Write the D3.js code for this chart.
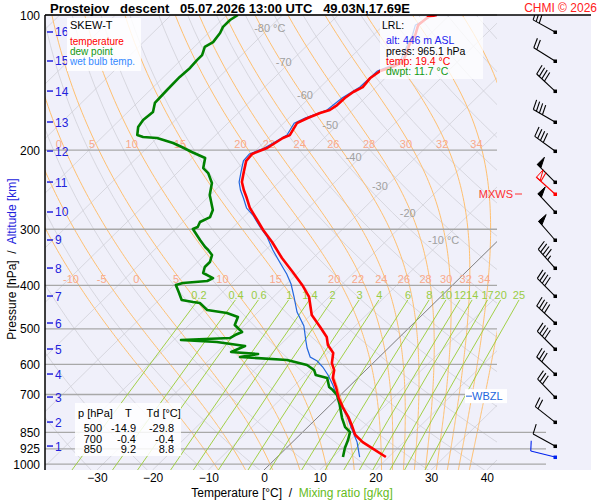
<!DOCTYPE html>
<html>
<head>
<meta charset="utf-8">
<script src="https://cdn.jsdelivr.net/npm/d3@7/dist/d3.min.js"></script>
<style>
  body { margin: 0; background: #fff; }
  svg { display: block; font-family: Arial, "Liberation Sans", sans-serif; }
</style>
</head>
<body>
<svg id="chart" width="600" height="500"></svg>
<script>
// ---- sounding: pressure [hPa] / temperature [°C]
const tempP = [100, 101.0, 105.3, 110.8, 115.4, 120.9, 127.3, 130.6, 133.3, 138.1, 144.7, 148.4, 153.1, 158.7, 162.8, 165.3, 169.6, 174.1, 185.1, 187.9, 197.8, 203.9, 211.3, 223.7, 235.5, 245.3, 255.6, 269.1, 286.1, 301.2, 320.3, 347.7, 373.6, 401.4, 424.5, 465.8, 495.3, 521.2, 543.4, 565.8, 595.8, 617.6, 643.1, 676.2, 711.0, 746.5, 784.9, 825.3, 860.5, 893.4, 922.6, 964.5];
const tempT = [-52.3, -53.5, -53.8, -52.5, -52.0, -50.9, -49.8, -50.8, -52.2, -52.7, -52.4, -53.2, -53.6, -53.7, -54.1, -55.3, -56.6, -57.6, -56.7, -57.4, -58.4, -60.0, -59.8, -58.2, -56.7, -54.9, -52.9, -50.5, -47.0, -44.1, -40.3, -35.6, -31.1, -26.7, -23.6, -19.8, -16.1, -13.1, -11.4, -9.0, -7.4, -5.7, -4.5, -2.1, 0.1, 2.6, 5.4, 7.9, 9.9, 12.6, 15.5, 19.5];

const dewP = [100, 102.6, 106.3, 109.7, 114.9, 117.8, 122.8, 126.0, 131.2, 137.4, 146.9, 157.0, 164.4, 171.3, 177.6, 185.0, 186.9, 187.9, 192.8, 196.8, 201.9, 208.2, 219.2, 224.9, 236.7, 251.7, 271.8, 281.8, 289.1, 296.6, 299.6, 317.0, 328.6, 333.7, 342.4, 354.9, 364.1, 375.5, 385.3, 391.2, 395.3, 399.3, 414.0, 431.3, 435.7, 437.9, 453.9, 461.0, 470.5, 490.2, 508.2, 516.0, 524.0, 529.5, 534.9, 546.0, 563.0, 568.9, 577.6, 586.6, 601.9, 617.5, 633.5, 643.3, 673.7, 684.2, 701.9, 738.9, 789.9, 827.2, 848.7, 884.2, 921.2, 964.7];
const dewT = [-88.0, -88.5, -88.5, -87.9, -87.5, -88.1, -87.1, -87.1, -86.9, -87.1, -87.0, -86.8, -85.5, -85.8, -85.4, -84.1, -82.7, -80.0, -76.2, -73.9, -71.2, -67.7, -66.2, -64.4, -61.9, -60.1, -56.8, -56.0, -56.9, -56.4, -56.9, -53.6, -51.4, -50.3, -48.7, -47.8, -47.8, -47.0, -44.3, -44.8, -48.8, -49.7, -47.9, -45.9, -43.5, -42.1, -39.5, -35.4, -32.7, -31.8, -29.2, -29.9, -30.3, -38.7, -31.9, -26.1, -27.5, -22.3, -25.0, -16.0, -11.5, -9.3, -8.1, -5.5, -3.5, -2.3, -0.6, 1.7, 4.5, 6.7, 8.5, 9.6, 10.5, 11.8];

const wbP = [100, 105.3, 110.8, 120.9, 127.3, 133.3, 144.7, 153.1, 162.8, 169.6, 174.1, 185.1, 197.8, 203.9, 211.3, 223.7, 235.5, 245.3, 255.6, 269.1, 278.9, 296.6, 312.2, 333.7, 356.7, 377.5, 397.3, 424.5, 458.6, 492.8, 529.5, 551.6, 577.6, 589.7, 608.1, 633.5, 666.8, 720.2, 784.9, 831.4, 893.4, 964.7];
const wbT = [-52.8, -54.3, -53.0, -51.4, -50.3, -52.7, -52.9, -54.1, -54.6, -57.1, -58.1, -57.2, -58.9, -60.5, -60.3, -58.7, -57.2, -55.5, -53.5, -51.1, -48.7, -45.2, -42.1, -38.7, -35.0, -31.8, -29.2, -26.3, -23.0, -19.2, -16.3, -14.6, -12.4, -10.4, -8.3, -5.9, -3.2, 0.5, 5.2, 8.0, 11.6, 14.8];

// altitude scale and winds at each km
const altKm = [1, 2, 3, 4, 5, 6, 7, 8, 9, 10, 11, 12, 13, 14, 15, 16];
const altP = [911.8, 806.3, 709.2, 630.3, 554.4, 485.2, 422.5, 366.0, 317.0, 274.6, 235.5, 200.9, 173.1, 147.7, 126.6, 109.1];
const windDir = [299, 308, 316, 313, 315, 313, 315, 318, 319, 317, 315, 306, 300, 313, 302, 299];
const windSpd = [10, 20, 30, 30, 40, 40, 40, 45, 50, 50, 50, 40, 40, 40, 20, 30];
const surfaceWind = { p: 964.7, dir: 284, spd: 10 };
const maxWind = { p: 250.4, dir: 312, spd: 60 };

// axes and diagram lines
const pressureTicks = [100, 200, 300, 400, 500, 600, 700, 850, 925, 1000];
const tempTicks = [-30, -20, -10, 0, 10, 20, 30, 40];
const isotherms = d3.range(-130, 50, 10);
const dryAdiabats = d3.range(220, 490, 10);
const thetaW = [-10, -5, 0, 5, 10, 15, 20, 22, 24, 26, 28, 30, 32, 34, 36];
const thetaWLabelLevels = [400, 200];
const mixingRatios = [0.2, 0.4, 0.6, 1, 1.4, 2, 3, 4, 6, 8, 10, 12, 14, 17, 20, 25];
const isoLabelT = [-80, -70, -60, -50, -40, -30, -20, -10];
const isoLabelP = [107, 127, 151, 176, 207, 240, 276, 317];

// table of standard levels
const tableP = [500, 700, 850];
const tableT = [-14.9, -0.4, 9.2];
const tableTd = [-29.8, -0.4, 8.8];
const wbzlP = 706;

const PLOT = { left: 45, top: 15, right: 497, bottom: 470, outer: 591 };
const SKEW = 1.02;
const RED = '#ff0000', GREEN = '#008000', BLUE = '#2266dd';

const svg = d3.select('#chart');
const yScale = d3.scaleLog().domain([100, 1031]).range([PLOT.top, PLOT.bottom]);
const xScale = d3.scaleLinear().domain([-40, 40]).range([41.2, 486.8]);
const skewX = (t, p) => xScale(t) + (PLOT.bottom - yScale(p)) * SKEW;
const profileLine = d3.line().x((d) => skewX(d[1], d[0])).y((d) => yScale(d[0]));

// thermodynamics for the background lines
const satVap = (tc) => 6.112 * Math.exp((17.67 * tc) / (tc + 243.5));
function moistLapse(T, p) {
    const Rd = 287.04, cp = 1005.7, L = 2.501e6, eps = 0.622;
    const es = satVap(T - 273.15);
    const rs = (eps * es) / (p - es);
    return (Rd * T + L * rs) / (cp + (L * L * rs * eps) / (Rd * T * T)) / p;
}
function pseudoAdiabat(thw) {
    const pts = [];
    let T = thw + 273.15;
    for (let p = 1000; p > 100; p -= 5) {
        pts.push([p, T - 273.15]);
        const k1 = moistLapse(T, p);
        const k2 = moistLapse(T - k1 * 2.5, p - 2.5);
        T -= k2 * 5;
    }
    pts.push([100, T - 273.15]);
    T = thw + 273.15;
    for (let p = 1000; p < 1035; p += 5) {
        const k1 = moistLapse(T, p);
        T += k1 * 5;
        pts.unshift([p + 5, T - 273.15]);
    }
    return pts.sort((a, b) => a[0] - b[0]);
}
const dewFromMix = (w, p) => {
    const e = (w * p) / (622 + w);
    const g = Math.log(e / 6.112);
    return (243.5 * g) / (17.67 - g);
};
const logSteps = d3.range(0, 31).map((i) => 100 * Math.pow(10.35, i / 30));

// clip paths
const defs = svg.append('defs');
defs.append('clipPath').attr('id', 'clipDiagram').append('rect')
    .attr('x', PLOT.left).attr('y', PLOT.top)
    .attr('width', PLOT.right - PLOT.left).attr('height', PLOT.bottom - PLOT.top);
defs.append('clipPath').attr('id', 'clipOuter').append('rect')
    .attr('x', PLOT.left).attr('y', PLOT.top)
    .attr('width', PLOT.outer - PLOT.left).attr('height', PLOT.bottom - PLOT.top);

// background
svg.append('rect').attr('x', PLOT.left).attr('y', PLOT.top)
    .attr('width', PLOT.outer - PLOT.left).attr('height', PLOT.bottom - PLOT.top)
    .attr('fill', '#f0f0fa');

const diagram = svg.append('g').attr('clip-path', 'url(#clipDiagram)');

// isotherms
diagram.selectAll('.isotherm').data(isotherms).join('path')
    .attr('class', 'isotherm')
    .attr('d', (t) => profileLine([[100, t], [1031, t]]))
    .attr('stroke', '#d0d0d8').attr('stroke-width', 0.8).attr('fill', 'none');

// dry adiabats
diagram.selectAll('.dry').data(dryAdiabats).join('path')
    .attr('class', 'dry')
    .attr('d', (th) => profileLine(logSteps.map((p) => [p, th * Math.pow(p / 1000, 0.2857) - 273.15])))
    .attr('stroke', '#d0d0d8').attr('stroke-width', 0.8).attr('fill', 'none');

// saturated (pseudo) adiabats
const moistCurves = thetaW.map((t) => ({ t, pts: pseudoAdiabat(t) }));
diagram.selectAll('.moist').data(moistCurves).join('path')
    .attr('class', 'moist')
    .attr('d', (d) => profileLine(d.pts))
    .attr('stroke', '#ffc070').attr('stroke-width', 1).attr('fill', 'none');

// 0 °C isotherm
diagram.append('path')
    .attr('d', profileLine([[100, 0], [1031, 0]]))
    .attr('stroke', '#707070').attr('stroke-width', 0.8).attr('fill', 'none');

// pressure lines
svg.selectAll('.pline').data(pressureTicks).join('line')
    .attr('class', 'pline')
    .attr('x1', PLOT.left).attr('x2', (p) => (p >= 850 ? 546 : PLOT.right))
    .attr('y1', (p) => yScale(p)).attr('y2', (p) => yScale(p))
    .attr('stroke', '#a8a8a8').attr('stroke-width', 1.3);

// mixing ratio lines
const mixTop = 431;
const mixG = svg.append('g').attr('clip-path', 'url(#clipOuter)');
mixG.selectAll('.mix').data(mixingRatios).join('path')
    .attr('class', 'mix')
    .attr('d', (w) => profileLine([mixTop, 600, 800, 1031].map((p) => [p, dewFromMix(w, p)])))
    .attr('stroke', '#99cc33').attr('stroke-width', 0.9).attr('fill', 'none');
mixG.selectAll('.mixlab').data(mixingRatios).join('text')
    .attr('class', 'mixlab')
    .attr('x', (w) => skewX(dewFromMix(w, 420), 420) - 3)
    .attr('y', yScale(420) + 4)
    .attr('text-anchor', 'middle').attr('font-size', 11).attr('fill', '#99cc44')
    .text((w) => w);

// theta-w labels
const moistAt = (pts, p) => {
    const i = d3.bisector((d) => d[0]).left(pts, p);
    const a = pts[Math.max(0, i - 1)], b = pts[Math.min(pts.length - 1, i)];
    const f = b[0] === a[0] ? 0 : (p - a[0]) / (b[0] - a[0]);
    return a[1] + f * (b[1] - a[1]);
};
thetaWLabelLevels.forEach((lev) => {
    const pl = yScale.invert(yScale(lev) - 6);
    moistCurves.filter((d) => d.t <= 34).forEach((d) => {
        let x = skewX(moistAt(d.pts, pl), pl) - 4;
        if (x < PLOT.left - 2 || x > PLOT.right) return;
        x = Math.max(x, PLOT.left + 7);
        svg.append('text')
            .attr('x', x).attr('y', yScale(pl) + 4)
            .attr('text-anchor', 'middle').attr('font-size', 11).attr('fill', '#f9a98a')
            .text(d.t);
    });
});

// isotherm labels
isoLabelT.forEach((t, i) => {
    const p = isoLabelP[i];
    const x = skewX(t, p);
    const y = yScale(p) + 4;
    svg.append('text').attr('x', x + 1).attr('y', y).attr('text-anchor', 'end')
        .attr('font-size', 11).attr('fill', '#a0a0a0').text(t);
    if (i === 0 || i === isoLabelT.length - 1) {
        svg.append('text').attr('x', x + 4).attr('y', y)
            .attr('font-size', 11).attr('fill', '#a0a0a0').text('°C');
    }
});

// profiles
const prof = svg.append('g').attr('clip-path', 'url(#clipDiagram)');
prof.append('path').datum(d3.zip(wbP, wbT)).attr('d', profileLine)
    .attr('stroke', BLUE).attr('stroke-width', 1.2).attr('fill', 'none');
prof.append('path').datum(d3.zip(dewP, dewT)).attr('d', profileLine)
    .attr('stroke', GREEN).attr('stroke-width', 2.6).attr('fill', 'none')
    .attr('stroke-linejoin', 'round');
prof.append('path').datum(d3.zip(tempP, tempT)).attr('d', profileLine)
    .attr('stroke', RED).attr('stroke-width', 2.6).attr('fill', 'none')
    .attr('stroke-linejoin', 'round');

// frame
svg.append('line').attr('x1', PLOT.left).attr('x2', PLOT.outer)
    .attr('y1', PLOT.top).attr('y2', PLOT.top).attr('stroke', '#000').attr('stroke-width', 1.3);
svg.append('line').attr('x1', PLOT.left).attr('x2', PLOT.left)
    .attr('y1', PLOT.top).attr('y2', PLOT.bottom).attr('stroke', '#000').attr('stroke-width', 1.5);

// pressure labels
svg.selectAll('.plab').data(pressureTicks).join('text')
    .attr('class', 'plab')
    .attr('x', 40).attr('y', (p) => yScale(p) + 4.5)
    .attr('text-anchor', 'end').attr('font-size', 12).attr('fill', '#000')
    .text((p) => p);

// altitude ticks
const altG = svg.append('g');
altKm.forEach((km, i) => {
    const y = yScale(altP[i]);
    altG.append('line').attr('x1', 47).attr('x2', 53).attr('y1', y).attr('y2', y)
        .attr('stroke', '#2222dd').attr('stroke-width', 1.5);
    altG.append('text').attr('x', 55).attr('y', y + 4.5)
        .attr('font-size', 12).attr('fill', '#2222dd').text(km);
});

// temperature axis
const xAxis = d3.axisBottom(xScale).tickValues(tempTicks).tickSize(0).tickPadding(0);
const xAxisEl = svg.append('g').attr('transform', `translate(0, ${PLOT.bottom + 3})`).call(xAxis);
xAxisEl.select('.domain').remove();
xAxisEl.selectAll('text').attr('font-size', 12).attr('fill', '#000')
    .attr('font-family', 'Arial, "Liberation Sans", sans-serif').attr('dy', '0.72em');

// axis titles
const xt = svg.append('text').attr('x', 292).attr('y', 497).attr('text-anchor', 'middle')
    .attr('font-size', 12).style('white-space', 'pre');
xt.append('tspan').attr('fill', '#000').text('Temperature [°C]  /  ');
xt.append('tspan').attr('fill', '#66bb22').text('Mixing ratio [g/kg]');

const yt = svg.append('text').attr('transform', 'translate(16, 259) rotate(-90)')
    .attr('text-anchor', 'middle').attr('font-size', 12).style('white-space', 'pre');
yt.append('tspan').attr('fill', '#000').text('Pressure [hPa]  /  ');
yt.append('tspan').attr('fill', '#2222dd').text('Altitude [km]');

// title
svg.append('text').attr('x', 50).attr('y', 12.5).attr('font-size', 13).attr('font-weight', 'bold')
    .style('white-space', 'pre').attr('fill', '#000')
    .text('Prostejov   descent   05.07.2026 13:00 UTC   49.03N,17.69E');
svg.append('text').attr('x', 597).attr('y', 11.5).attr('text-anchor', 'end')
    .attr('font-size', 12).attr('fill', '#ff2020').text('CHMI © 2026');

// legend box
const leg = svg.append('g');
leg.append('rect').attr('x', 67).attr('y', 18).attr('width', 74).attr('height', 53)
    .attr('fill', '#fff').attr('opacity', 0.85);
[['SKEW-T', '#000', 29, 11], ['temperature', RED, 45, 10], ['dew point', '#119911', 55, 10],
    ['wet bulb temp.', '#3388ff', 65, 10]].forEach(([t, c, y, fs]) => {
    leg.append('text').attr('x', 70).attr('y', y).attr('font-size', fs).attr('fill', c).text(t);
});

// LRL box
const lrl = svg.append('g');
lrl.append('rect').attr('x', 380).attr('y', 17).attr('width', 103).attr('height', 62)
    .attr('fill', '#fff').attr('opacity', 0.75);
[['LRL:', '#000', 382, 29], ['alt: 446 m ASL', '#2222ee', 386, 44], ['press: 965.1 hPa', '#000', 386, 55],
    ['temp: 19.4 °C', RED, 386, 65], ['dwpt: 11.7 °C', '#119911', 386, 75]].forEach(([t, c, x, y]) => {
    lrl.append('text').attr('x', x).attr('y', y).attr('font-size', 10.5).attr('fill', c).text(t);
});

// table box
const tab = svg.append('g');
tab.append('rect').attr('x', 75).attr('y', 403).attr('width', 106).attr('height', 53)
    .attr('fill', '#fff').attr('opacity', 0.85);
tab.append('text').attr('x', 78).attr('y', 417).attr('font-size', 11).style('white-space', 'pre')
    .text('p [hPa]    T     Td [°C]');
tableP.forEach((p, i) => {
    const y = 432 + i * 10.5;
    tab.append('text').attr('x', 102).attr('y', y).attr('text-anchor', 'end').attr('font-size', 11).text(p);
    tab.append('text').attr('x', 136).attr('y', y).attr('text-anchor', 'end').attr('font-size', 11).text(tableT[i].toFixed(1));
    tab.append('text').attr('x', 174).attr('y', y).attr('text-anchor', 'end').attr('font-size', 11).text(tableTd[i].toFixed(1));
});

// WBZL label
const wy = yScale(wbzlP);
svg.append('rect').attr('x', 465).attr('y', wy - 7).attr('width', 42).attr('height', 14).attr('fill', '#fff');
svg.append('line').attr('x1', 466).attr('x2', 472).attr('y1', wy).attr('y2', wy).attr('stroke', BLUE);
svg.append('text').attr('x', 472).attr('y', wy + 4).attr('font-size', 11).attr('fill', BLUE).text('WBZL');

// MXWS label
const my = yScale(maxWind.p);
svg.append('text').attr('x', 513).attr('y', my + 4).attr('text-anchor', 'end')
    .attr('font-size', 11).attr('fill', '#ff3030').text('MXWS');
svg.append('line').attr('x1', 515).attr('x2', 522).attr('y1', my).attr('y2', my).attr('stroke', '#ff3030');

// wind barbs
const BARB_X = 555;
function drawBarb(g, y0, dir, spd, color, hollow) {
    const rad = (dir * Math.PI) / 180;
    const sx = Math.sin(rad), sy = -Math.cos(rad);
    const px = -sy, py = sx;
    const L = 25, fl = 10;
    const ex = BARB_X + sx * L, ey = y0 + sy * L;
    g.append('line').attr('x1', BARB_X).attr('y1', y0).attr('x2', ex).attr('y2', ey)
        .attr('stroke', color).attr('stroke-width', 1.1);
    let rem = Math.round(spd / 5) * 5;
    let pos = 0;
    while (rem >= 50) {
        const ax = ex - sx * pos, ay = ey - sy * pos;
        const bx = ex - sx * (pos + 5), by = ey - sy * (pos + 5);
        g.append('path').attr('d', `M${ax},${ay}L${ax + px * fl},${ay + py * fl}L${bx},${by}Z`)
            .attr('fill', hollow ? 'none' : color).attr('stroke', color).attr('stroke-width', 1);
        pos += 6;
        rem -= 50;
    }
    while (rem >= 10) {
        const ax = ex - sx * pos, ay = ey - sy * pos;
        g.append('line').attr('x1', ax).attr('y1', ay)
            .attr('x2', ax + px * fl + sx * 2).attr('y2', ay + py * fl + sy * 2)
            .attr('stroke', color).attr('stroke-width', 1.1);
        pos += 3.5;
        rem -= 10;
    }
    if (rem >= 5) {
        const ax = ex - sx * pos, ay = ey - sy * pos;
        g.append('line').attr('x1', ax).attr('y1', ay)
            .attr('x2', ax + px * fl * 0.5 + sx).attr('y2', ay + py * fl * 0.5 + sy)
            .attr('stroke', color).attr('stroke-width', 1.1);
    }
    g.append('rect').attr('x', BARB_X - 1.5).attr('y', y0 - 1.5).attr('width', 3.5).attr('height', 3.5)
        .attr('fill', color);
}
const barbs = svg.append('g').attr('clip-path', 'url(#clipOuter)');
altKm.forEach((km, i) => drawBarb(barbs, yScale(altP[i]), windDir[i], windSpd[i], '#000', false));
drawBarb(barbs, yScale(maxWind.p), maxWind.dir, maxWind.spd, '#ff0000', true);
drawBarb(barbs, yScale(surfaceWind.p), surfaceWind.dir, surfaceWind.spd, '#0022ee', false);
</script>
</body>
</html>
